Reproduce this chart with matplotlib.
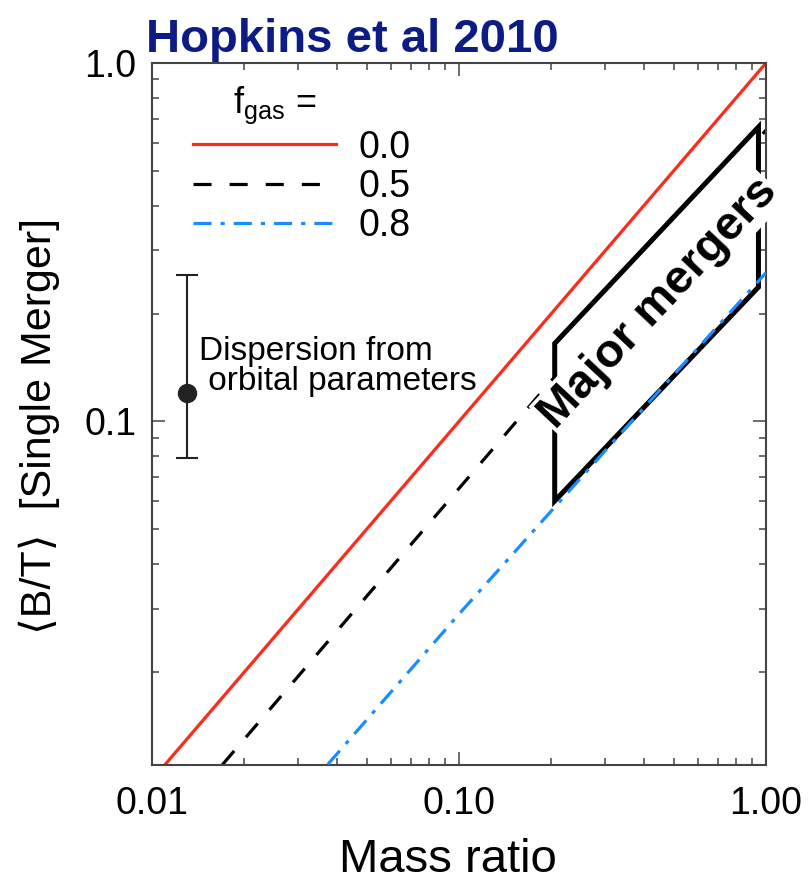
import matplotlib
matplotlib.use("Agg")
import matplotlib.pyplot as plt
from matplotlib.ticker import NullFormatter

plt.rcParams['font.family'] = ['Liberation Sans', 'DejaVu Sans']
plt.rcParams['lines.scale_dashes'] = False

# B/T of a single merger vs mass ratio, for three gas fractions
mass_ratio = [0.01, 0.03, 0.1, 0.3, 1.0]
bt_fgas00 = [0.01, 0.03, 0.1, 0.3, 1.0]
bt_fgas05 = [0.0065, 0.0195, 0.065, 0.195, 0.65]
bt_fgas08 = [0.0030, 0.0089, 0.029, 0.083, 0.26]
fgas_labels = ['0.0', '0.5', '0.8']

# dispersion error bar
disp_x = 0.013
disp_y = 0.12
disp_lo = 0.079
disp_hi = 0.256

# "major mergers" region
box_x = [0.205, 0.205, 0.945, 0.945]
box_y = [0.165, 0.060, 0.237, 0.663]

RED = '#ff2a1a'
BLUE = '#1a8cff'
NAVY = '#0c1c84'

fig = plt.figure(figsize=(8.09, 8.85), dpi=100)
ax = fig.add_axes([152 / 809, 1 - 765 / 885, 614 / 809, 702 / 885])
ax.set_xscale('log')
ax.set_yscale('log')
ax.set_xlim(0.01, 1.0)
ax.set_ylim(0.011, 1.0)

l0, = ax.plot(mass_ratio, bt_fgas00, color=RED, lw=2.3, zorder=2)
l1, = ax.plot(mass_ratio, bt_fgas05, color='black', lw=2.3, dashes=(13, 13), zorder=2)
l2, = ax.plot(mass_ratio, bt_fgas08, color=BLUE, lw=2.3, dashes=(13, 6.5, 3, 6.5), zorder=4)

ax.fill(box_x, box_y, facecolor='white', edgecolor='black', lw=3.6, joinstyle='miter', zorder=3)
ax.text(0.445, 0.214, 'Major mergers', rotation=46.8, rotation_mode='anchor',
        ha='center', va='center', fontsize=34, fontweight='bold', zorder=6, clip_on=False,
        bbox=dict(facecolor='white', edgecolor='none', pad=1))

ax.errorbar(disp_x, disp_y, yerr=[[disp_y - disp_lo], [disp_hi - disp_y]], fmt='o',
            color='#222222', ms=13, capsize=8, elinewidth=1.5, capthick=1.5, zorder=4)
ax.text(0.01422, 0.1425, 'Dispersion from\n orbital parameters', ha='left', va='center',
        fontsize=24, linespacing=0.95)

leg = ax.legend([l0, l1, l2], fgas_labels, title='    f$_\\mathregular{gas}$ =', loc='upper left',
                bbox_to_anchor=(0.0668, 0.969), frameon=False, fontsize=27, title_fontsize=26,
                handlelength=3.8, handletextpad=0.6, labelspacing=0.09, borderpad=0,
                borderaxespad=0, alignment='left')

ax.set_xticks([0.01, 0.1, 1.0])
ax.set_xticklabels(['0.01', '0.10', '1.00'])
ax.set_yticks([0.1, 1.0])
ax.set_yticklabels(['0.1', '1.0'])
ax.xaxis.set_minor_formatter(NullFormatter())
ax.yaxis.set_minor_formatter(NullFormatter())
ax.tick_params(which='both', direction='in', top=True, right=True, colors='#444444',
               labelcolor='black', width=1.1)
ax.tick_params(which='major', length=9.5, labelsize=27)
ax.tick_params(which='minor', length=5)
ax.tick_params(axis='x', pad=15)
ax.tick_params(axis='y', pad=11)
for s in ax.spines.values():
    s.set_linewidth(1.5)
    s.set_color('#444444')

ax.set_xlabel('Mass ratio', fontsize=34)
ax.xaxis.set_label_coords(0.482, -0.104)
ax.set_ylabel('\u27e8B/T\u27e9  [Single Merger]', fontsize=31)
ax.yaxis.set_label_coords(-0.15, 0.483)

fig.text(352 / 809, 1 - 52 / 885, 'Hopkins et al 2010', ha='center', va='baseline',
         fontsize=34, fontweight='bold', color=NAVY)

fig.savefig('out.png', dpi=100)
